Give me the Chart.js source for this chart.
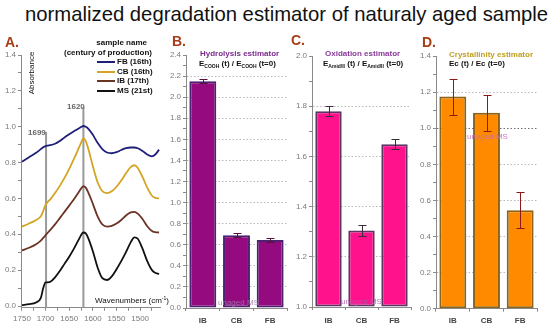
<!DOCTYPE html>
<html><head><meta charset="utf-8">
<script src="https://cdn.jsdelivr.net/npm/chart.js@4.4.0/dist/chart.umd.min.js"></script>
<style>
body{margin:0;background:#fff;}
#wrap{position:relative;width:550px;height:327px;overflow:hidden;font-family:"Liberation Sans",Arial,sans-serif;background:#fff;}
canvas{position:absolute;}
.t{position:absolute;white-space:nowrap;line-height:1;}
.b{font-weight:bold;}
.pl{font-size:14px;font-weight:bold;color:#a83c14;}
sub{font-size:5px;vertical-align:-2px;}
sup{font-size:5px;vertical-align:3px;}
.lg{position:absolute;width:18px;height:2px;}
</style></head><body><div id="wrap">
<canvas id="cA" width="162" height="287" style="left:0;top:40px;width:162px;height:287px"></canvas>
<canvas id="cB" width="128" height="287" style="left:162px;top:40px;width:128px;height:287px"></canvas>
<canvas id="cC" width="124" height="287" style="left:290px;top:40px;width:124px;height:287px"></canvas>
<canvas id="cD" width="136" height="287" style="left:414px;top:40px;width:136px;height:287px"></canvas>

<div class="t" style="left:25px;top:4px;font-size:20.3px;color:#111">normalized degradation estimator of naturaly aged sample</div>
<div class="t pl" style="left:5px;top:35px">A.</div>
<div class="t pl" style="left:172px;top:34px">B.</div>
<div class="t pl" style="left:291px;top:33px">C.</div>
<div class="t pl" style="left:422px;top:35px">D.</div>

<!-- panel A annotations -->
<div class="t b" style="right:403px;top:39px;font-size:8px;color:#111">sample name</div>
<div class="t b" style="right:398px;top:49px;font-size:8px;color:#111">(century of production)</div>
<div id="legendA"></div>
<div class="t" style="left:32px;top:73px;font-size:8px;color:#111;transform:translate(-50%,-50%) rotate(-90deg)">Absorbance</div>
<div class="t b" style="left:28px;top:129px;font-size:8px;color:#666">1699</div>
<div class="t b" style="left:67px;top:103px;font-size:8px;color:#666">1620</div>
<div class="t" style="left:95px;top:296px;font-size:8px;color:#111">Wavenumbers (cm<sup>-1</sup>)</div>

<!-- panel B annotations -->
<div class="t b" style="left:200px;top:50px;font-size:8px;color:#7c2a8c">Hydrolysis estimator</div>
<div class="t b" style="left:199px;top:60px;font-size:8px;color:#111">E<sub>COOH</sub> (t) / E<sub>COOH</sub> (t=0)</div>
<div class="t" style="left:218px;top:299px;font-size:8px;color:rgba(160,120,170,0.85)">unaged MS</div>

<!-- panel C annotations -->
<div class="t b" style="left:325px;top:50px;font-size:8px;color:#8a3a9a">Oxidation estimator</div>
<div class="t b" style="left:323px;top:60px;font-size:8px;color:#111">E<sub>Amid/II</sub> (t) / E<sub>Amid/II</sub> (t=0)</div>
<div class="t" style="left:341px;top:298px;font-size:8px;color:rgba(170,90,170,0.85)">unaged MS</div>

<!-- panel D annotations -->
<div class="t b" style="left:449px;top:51px;font-size:8px;color:#c0a020">Crystallinity estimator</div>
<div class="t b" style="left:449px;top:60px;font-size:8px;color:#111">Ec (t) / Ec (t=0)</div>
<div class="t" style="left:467px;top:133px;font-size:8px;color:rgba(200,110,190,0.9)">unaged MS</div>
</div>
<script>
// ---------- data ----------
const wavenumbers = [1750,1735,1720,1710,1705,1700,1695,1690,1680,1670,1660,1650,1640,1630,1625,1620,1615,1610,1600,1590,1580,1570,1560,1550,1540,1530,1520,1512,1505,1495,1485,1475,1468,1460];
const absFB = [0.805,0.83,0.855,0.875,0.885,0.892,0.895,0.897,0.905,0.92,0.94,0.958,0.975,0.99,0.998,1.004,1.0,0.99,0.955,0.91,0.875,0.856,0.852,0.858,0.87,0.88,0.884,0.884,0.88,0.865,0.845,0.835,0.845,0.872];
const absCB = [0.443,0.46,0.48,0.50,0.53,0.565,0.582,0.595,0.63,0.67,0.715,0.765,0.82,0.88,0.91,0.935,0.92,0.88,0.78,0.69,0.64,0.63,0.64,0.665,0.70,0.74,0.775,0.785,0.77,0.72,0.66,0.615,0.603,0.60];
const absIB = [0.31,0.325,0.345,0.365,0.38,0.395,0.41,0.425,0.455,0.49,0.525,0.56,0.595,0.635,0.655,0.668,0.66,0.635,0.57,0.50,0.455,0.443,0.447,0.46,0.48,0.505,0.522,0.525,0.515,0.485,0.445,0.418,0.412,0.41];
const absMS = [0.005,0.01,0.02,0.045,0.10,0.132,0.132,0.135,0.16,0.195,0.235,0.275,0.32,0.37,0.395,0.41,0.405,0.38,0.305,0.215,0.155,0.145,0.165,0.205,0.25,0.30,0.355,0.383,0.375,0.32,0.25,0.20,0.185,0.178];
const seriesNames = ['FB (16th)','CB (16th)','IB (17th)','MS (21st)'];
const seriesColors = ['#1f1f7a','#d4a424','#6b3424','#111111'];
const bandWavenumbers = [1699,1620];
const bandTops = [0.97,1.11];
const xTicksA = [1750,1725,1700,1675,1650,1625,1600,1575,1550,1525,1500,1475];
const xLabelsA = [1750,1700,1650,1600,1550,1500];
const yTicksA = [0,0.1,0.2,0.3,0.4,0.5,0.6,0.7,0.8,0.9,1.0,1.1,1.2,1.3,1.4];
const yLabelsA = [0,0.2,0.4,0.6,0.8,1.0,1.2,1.4];

const samples = ['IB','CB','FB'];
const hydrolysis = [2.15,0.69,0.645];
const hydrolysisErr = [0.02,0.02,0.02];
const oxidation = [1.78,1.305,1.648];
const oxidationErr = [0.02,0.022,0.02];
const crystallinity = [1.175,1.085,0.545];
const crystallinityErr = [0.1,0.1,0.1];

const yTicksB = [0,0.1,0.2,0.3,0.4,0.5,0.6,0.7,0.8,0.9,1.0,1.1,1.2,1.3,1.4,1.5,1.6,1.7,1.8,1.9,2.0,2.1,2.2,2.3,2.4];
const yLabelsB = [0,0.2,0.4,0.6,0.8,1.0,1.2,1.4,1.6,1.8,2.0,2.2,2.4];
const gridB = [0.2,0.4,0.6,0.8,1.0,1.2,1.4,1.6,1.8,2.0,2.2];
const yTicksC = [1.0,1.1,1.2,1.3,1.4,1.5,1.6,1.7,1.8,1.9,2.0];
const yLabelsC = [1.0,1.2,1.4,1.6,1.8,2.0];
const gridC = [1.2,1.4,1.6,1.8];
const yTicksD = [0,0.1,0.2,0.3,0.4,0.5,0.6,0.7,0.8,0.9,1.0,1.1,1.2,1.3,1.4];
const yLabelsD = [0,0.2,0.4,0.6,0.8,1.0,1.2,1.4];
const gridD = [0.2,0.4,0.6,0.8,1.0,1.2];

// ---------- helpers ----------
const F = '"Liberation Sans", Arial, sans-serif';
const TICKC = '#8a8a8a';
const LABC = '#7a7a7a';

// legend for A (HTML)
(function(){
  const lg = document.getElementById('legendA');
  const ys = [62,72,81,91];
  seriesNames.forEach((n,i)=>{
    const l = document.createElement('div'); l.className='lg';
    l.style.left='97px'; l.style.top=(ys[i]-1)+'px'; l.style.background=seriesColors[i];
    lg.appendChild(l);
    const t = document.createElement('div'); t.className='t b';
    t.style.cssText='left:117px;top:'+(ys[i]-4)+'px;font-size:8px;color:#111';
    t.textContent=n; lg.appendChild(t);
  });
})();

const errorBars = {
  id:'errorBars',
  afterDatasetsDraw(chart, args, opts){
    if(!opts || !opts.errors) return;
    const meta = chart.getDatasetMeta(0);
    const ys = chart.scales.y;
    const vals = chart.data.datasets[0].data;
    const ctx = chart.ctx;
    ctx.save();
    ctx.strokeStyle = opts.color; ctx.lineWidth = 1;
    meta.data.forEach((bar,i)=>{
      const x = Math.round(bar.x)+0.5;
      const yt = Math.round(ys.getPixelForValue(vals[i]+opts.errors[i]))+0.5;
      const yb = Math.round(ys.getPixelForValue(vals[i]-opts.errors[i]))+0.5;
      ctx.beginPath();
      ctx.moveTo(x,yt); ctx.lineTo(x,yb);
      ctx.moveTo(x-4,yt); ctx.lineTo(x+4,yt);
      ctx.moveTo(x-4,yb); ctx.lineTo(x+4,yb);
      ctx.stroke();
    });
    ctx.restore();
  }
};

function yAxis(min,max,ticks,labels,width,grid,special){
  return {
    min:min,max:max,
    afterBuildTicks:s=>{s.ticks=ticks.map(v=>({value:v}));},
    afterFit:s=>{s.width=width;},
    border:{color:TICKC,width:1,dash:[1.5,2]},
    grid:{
      drawOnChartArea:!!grid,
      color:c=>{ const v=c.tick?c.tick.value:null; if(!grid||!grid.includes(v)) return 'rgba(0,0,0,0)'; return (special!==undefined && v===special)?'#707070':'#b8b8b8'; },
      tickColor:TICKC,tickLength:3,tickBorderDash:[]
    },
    ticks:{autoSkip:false,padding:2,color:LABC,font:{size:8,family:F},callback:v=>labels.includes(v)?v.toFixed(1):''}
  };
}

function catAxis(height,pad){
  return {
    afterFit:s=>{s.height=height;},
    border:{color:TICKC,width:1},
    grid:{drawOnChartArea:false,tickColor:TICKC,tickLength:3},
    ticks:{padding:pad,color:'#444',font:{size:8,weight:'bold',family:F}}
  };
}

const common = {responsive:false,animation:false,devicePixelRatio:1,events:[]};

// ---------- Panel A ----------
const dsA = [absFB,absCB,absIB,absMS].map((arr,k)=>({
  label:seriesNames[k],
  data:wavenumbers.map((w,i)=>({x:w,y:arr[i]})),
  borderColor:seriesColors[k],borderWidth:1.8,pointRadius:0,
  cubicInterpolationMode:'monotone',fill:false,order:k
}));
bandWavenumbers.forEach((w,i)=>{
  dsA.push({label:'band'+w,data:[{x:w,y:-0.01},{x:w,y:bandTops[i]}],borderColor:'#9a9a9a',borderWidth:2,pointRadius:0,order:20});
});
new Chart(document.getElementById('cA'),{
  type:'line',
  data:{datasets:dsA},
  options:Object.assign({},common,{
    layout:{padding:{top:15,right:2,left:0,bottom:0}},
    plugins:{legend:{display:false},tooltip:{enabled:false}},
    scales:{
      x:{type:'linear',reverse:true,min:1458,max:1752,
        afterBuildTicks:s=>{s.ticks=xTicksA.map(v=>({value:v}));},
        afterFit:s=>{s.height=19.2;},
        border:{color:TICKC,width:1},
        grid:{drawOnChartArea:false,tickColor:TICKC,tickLength:3},
        ticks:{autoSkip:false,maxRotation:0,padding:3,color:LABC,font:{size:8,family:F},callback:v=>xLabelsA.includes(v)?String(v):''}},
      y:Object.assign(yAxis(-0.01,1.4,yTicksA,yLabelsA,21,null),{})
    }
  })
});

// ---------- bar panels ----------
function barChart(id,data,err,fill,border,errColor,min,max,ticks,labels,yw,grid,special,topPad,rightPad,xh,xpad){
  return new Chart(document.getElementById(id),{
    type:'bar',
    data:{labels:samples,datasets:[{data:data,backgroundColor:fill,borderColor:border,borderWidth:2,borderSkipped:false,base:min,barPercentage:0.8,categoryPercentage:1.0}]},
    plugins:[errorBars],
    options:Object.assign({},common,{
      layout:{padding:{top:topPad,right:rightPad,left:0,bottom:0}},
      plugins:{legend:{display:false},tooltip:{enabled:false},errorBars:{errors:err,color:errColor}},
      scales:{x:catAxis(xh,xpad),y:yAxis(min,max,ticks,labels,yw,grid,special)}
    })
  });
}
barChart('cB',hydrolysis,hydrolysisErr,'#960a80','#4b2170','#5a1038',0,2.4,yTicksB,yLabelsB,24,gridB,undefined,15,3,19,5);
barChart('cC',oxidation,oxidationErr,'#ff128c','#5c3565','#3a2a3a',1.0,2.0,yTicksC,yLabelsC,22,gridC,undefined,16,3,20,6);
barChart('cD',crystallinity,crystallinityErr,'#ff8a00','#8a6418','#8b1a1a',0,1.4,yTicksD,yLabelsD,22,gridD,1.0,16,13,18.3,4);
</script>
</body></html>
